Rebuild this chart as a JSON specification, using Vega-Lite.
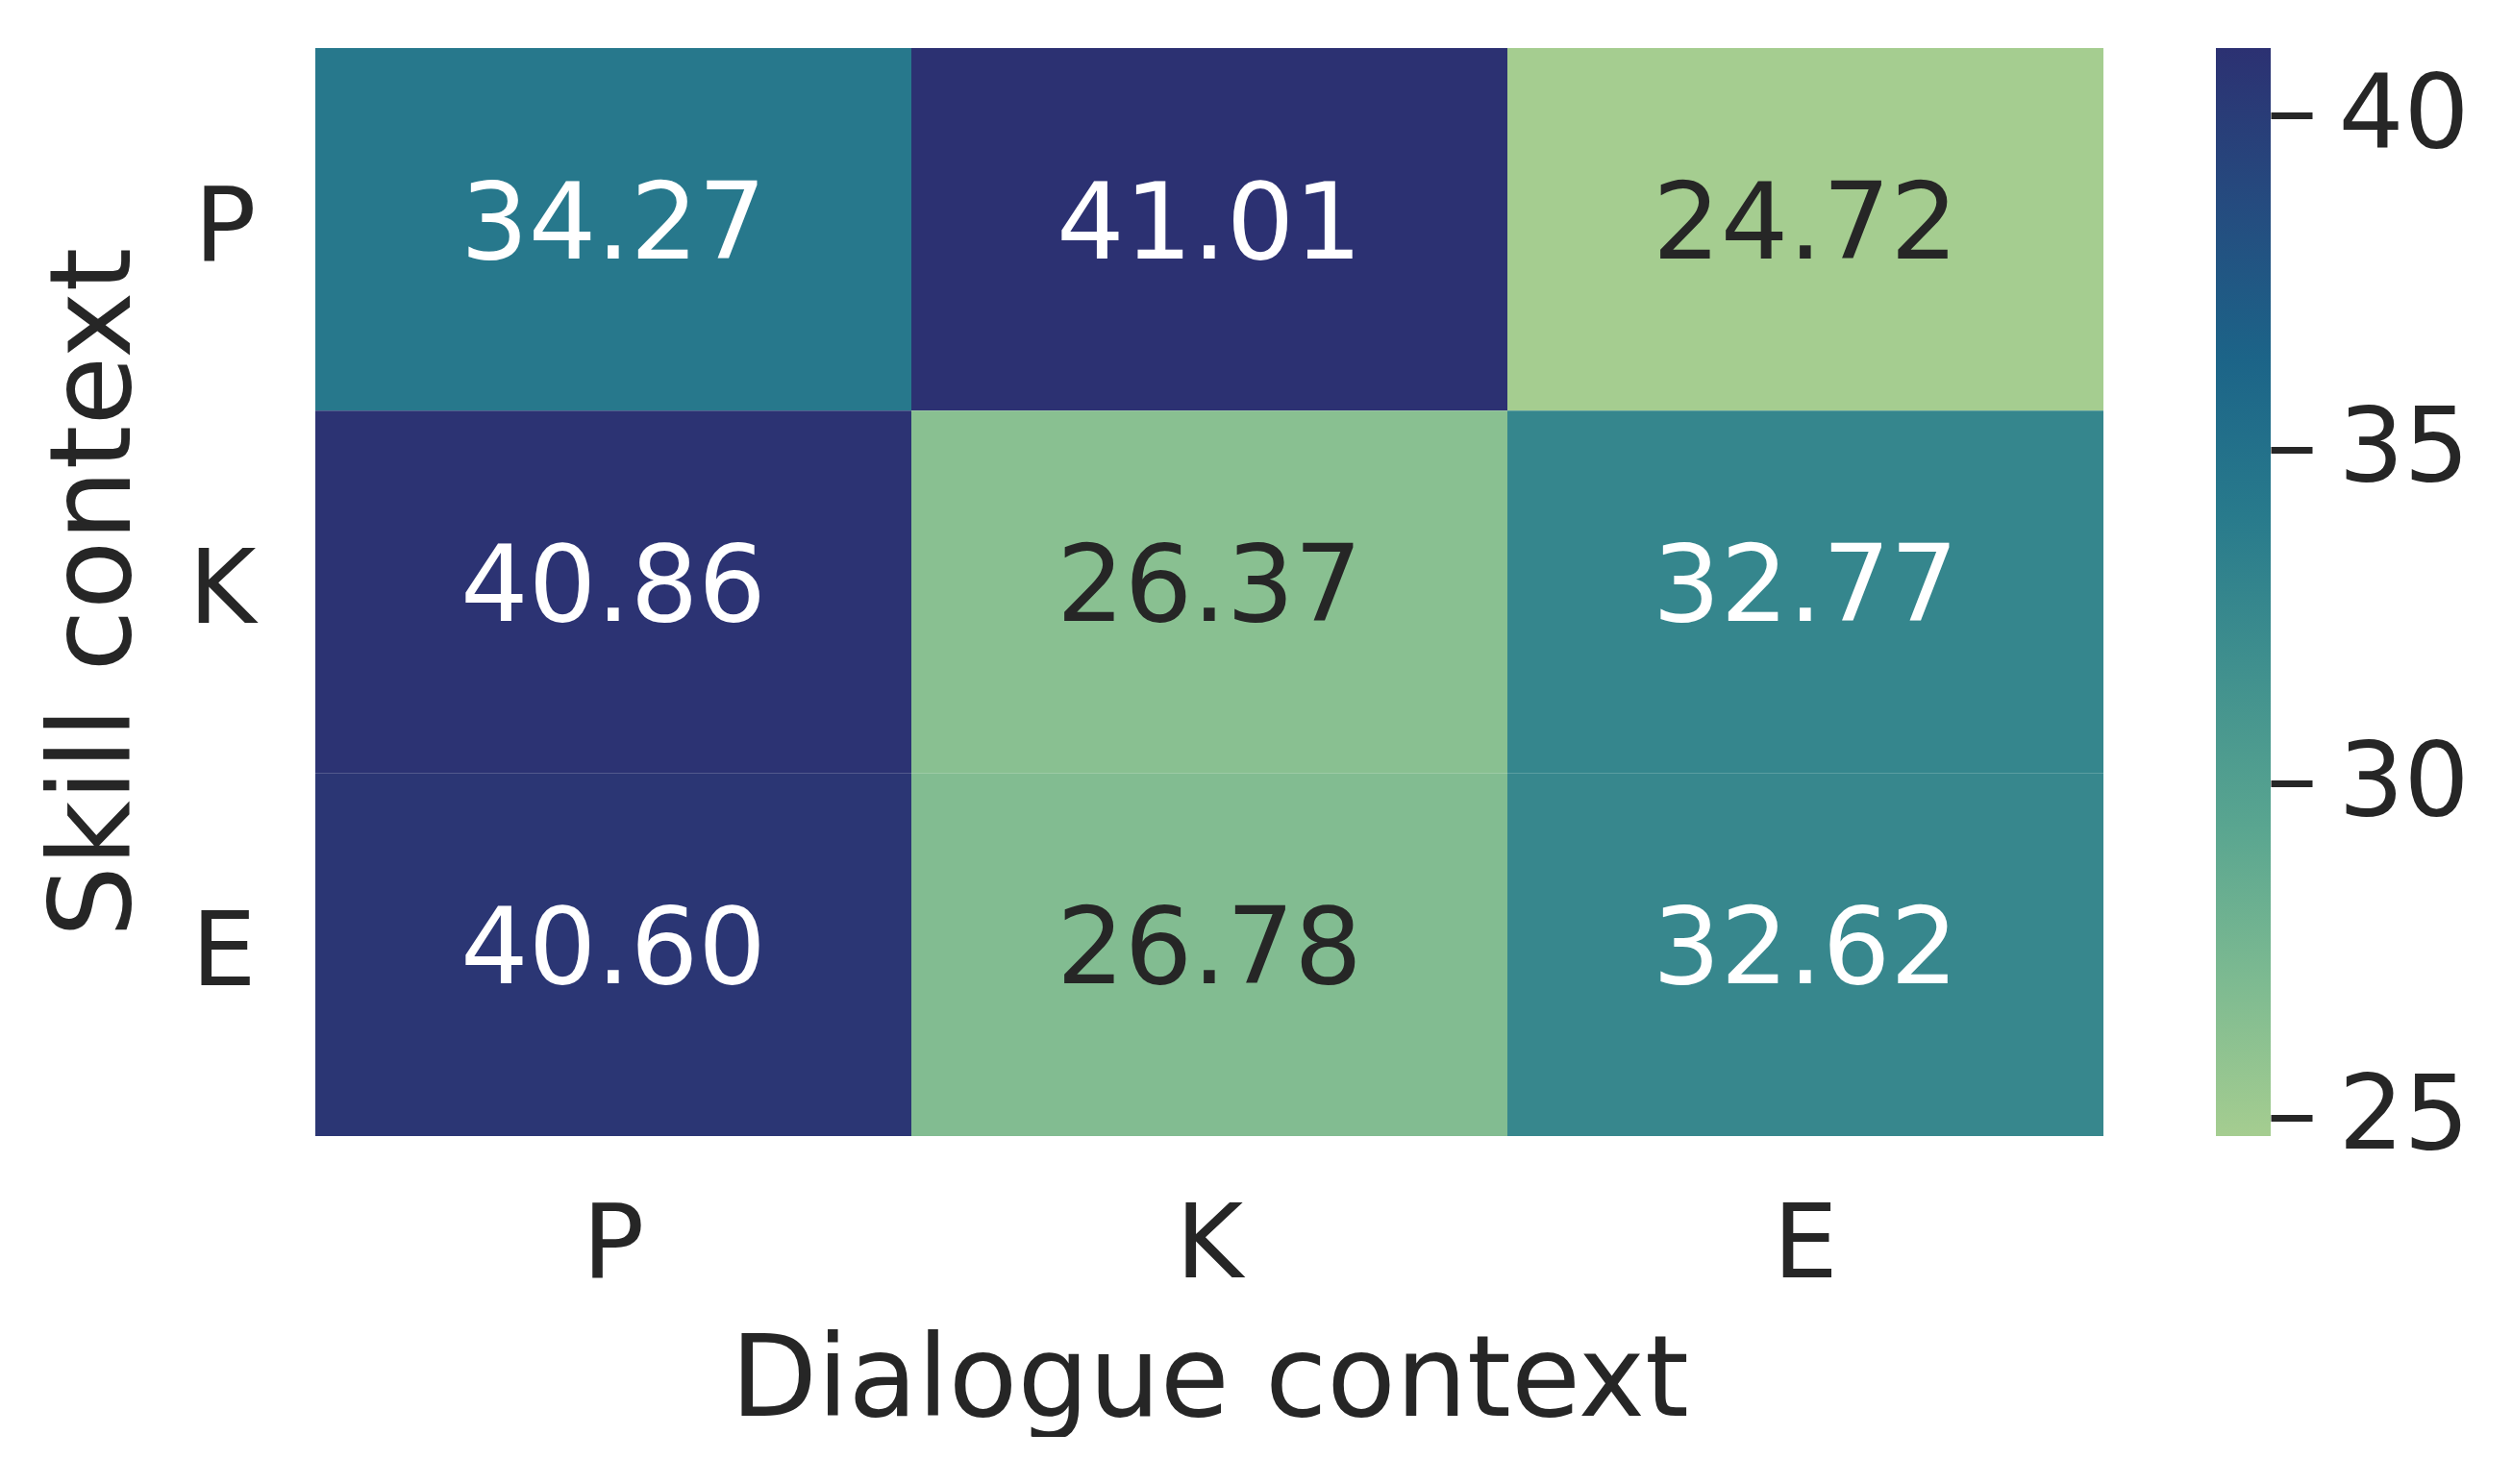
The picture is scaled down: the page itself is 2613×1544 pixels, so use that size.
{
  "$schema": "https://vega.github.io/schema/vega-lite/v6.json",
  "background": "white",
  "padding": {"left": 40, "top": 50, "right": 0, "bottom": 0},
  "config": {
    "font": "DejaVu Sans",
    "view": {"stroke": null},
    "axis": {"labelColor": "#262626", "titleColor": "#262626", "titleFontWeight": "normal"}
  },
  "datasets": {
    "cells": [
      {"skill": "P", "dialogue": "P", "v": 34.27},
      {"skill": "P", "dialogue": "K", "v": 41.01},
      {"skill": "P", "dialogue": "E", "v": 24.72},
      {"skill": "K", "dialogue": "P", "v": 40.86},
      {"skill": "K", "dialogue": "K", "v": 26.37},
      {"skill": "K", "dialogue": "E", "v": 32.77},
      {"skill": "E", "dialogue": "P", "v": 40.60},
      {"skill": "E", "dialogue": "K", "v": 26.78},
      {"skill": "E", "dialogue": "E", "v": 32.62}
    ],
    "bar": [{"lo": 24.72, "hi": 41.01}]
  },
  "hconcat": [
    {
      "width": 1860,
      "height": 1132,
      "data": {"name": "cells"},
      "encoding": {
        "x": {"field": "dialogue", "type": "ordinal", "sort": ["P", "K", "E"],
          "scale": {"paddingInner": 0, "paddingOuter": 0},
          "axis": {"title": "Dialogue context", "labelAngle": 0, "domain": false, "ticks": false,
            "labelFontSize": 107, "labelPadding": 61, "titleFontSize": 117, "titlePadding": 31}},
        "y": {"field": "skill", "type": "ordinal", "sort": ["P", "K", "E"],
          "scale": {"paddingInner": 0, "paddingOuter": 0},
          "axis": {"title": "Skill context", "domain": false, "ticks": false,
            "labelFontSize": 107, "labelPadding": 62, "titleFontSize": 117, "titlePadding": 36}}
      },
      "layer": [
        {
          "mark": {"type": "rect"},
          "encoding": {
            "color": {"field": "v", "type": "quantitative", "legend": null,
              "scale": {"domain": [24.72, 27.047, 29.374, 31.70, 34.029, 36.356, 38.683, 41.01],
                "range": ["#a5cd90", "#7dba91", "#59a590", "#40908e", "#287a8c", "#1c6488", "#254b7f", "#2c3172"],
                "interpolate": "rgb"}}
          }
        },
        {
          "mark": {"type": "text", "fontSize": 111, "baseline": "middle", "align": "center", "dy": -3},
          "encoding": {
            "text": {"field": "v", "type": "quantitative", "format": ".2f"},
            "color": {"condition": {"test": "datum.v > 30", "value": "white"}, "value": "#262626"}
          }
        }
      ]
    },
    {
      "width": 57,
      "height": 1132,
      "data": {"name": "bar"},
      "mark": {
        "type": "rect",
        "color": {
          "gradient": "linear", "x1": 0, "y1": 1, "x2": 0, "y2": 0,
          "stops": [
            {"offset": 0, "color": "#a5cd90"},
            {"offset": 0.1429, "color": "#7dba91"},
            {"offset": 0.2857, "color": "#59a590"},
            {"offset": 0.4286, "color": "#40908e"},
            {"offset": 0.5714, "color": "#287a8c"},
            {"offset": 0.7143, "color": "#1c6488"},
            {"offset": 0.8571, "color": "#254b7f"},
            {"offset": 1, "color": "#2c3172"}
          ]
        }
      },
      "encoding": {
        "y": {"field": "lo", "type": "quantitative",
          "scale": {"domain": [24.72, 41.01], "nice": false, "zero": false},
          "axis": {"orient": "right", "title": null, "values": [25, 30, 35, 40], "domain": false, "grid": false,
            "ticks": true, "tickSize": 43, "tickWidth": 7, "tickColor": "#262626",
            "labelFontSize": 107, "labelPadding": 27}},
        "y2": {"field": "hi"}
      }
    }
  ],
  "spacing": 117
}
